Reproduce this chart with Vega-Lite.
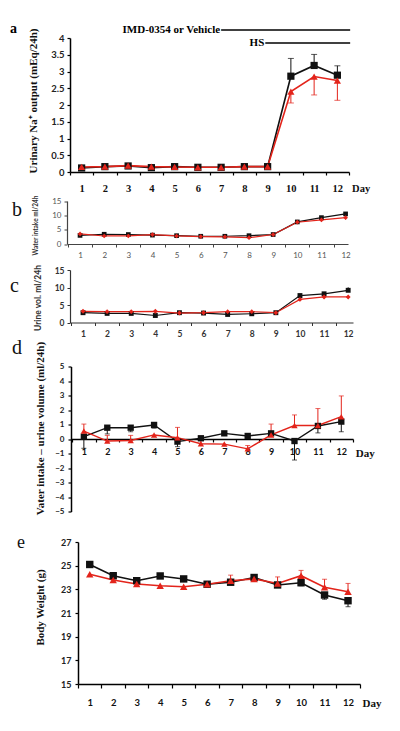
{
  "$schema": "https://vega.github.io/schema/vega-lite/v6.json",
  "background": "white",
  "padding": {"left": 10, "top": 21, "right": 5, "bottom": 5},
  "bounds": "flush",
  "spacing": 25.5,
  "resolve": {"scale": {"x": "independent", "y": "independent", "color": "independent", "shape": "independent"}},
  "config": {"view": {"stroke": null}, "axis": {"grid": false, "domainColor": "#000", "tickColor": "#000", "tickCount": 50}, "title": {"offset": 0}},
  "datasets": {
    "a": [
      {"day":1,"g":"Vehicle","v":0.12},{"day":2,"g":"Vehicle","v":0.16},{"day":3,"g":"Vehicle","v":0.18},{"day":4,"g":"Vehicle","v":0.13},{"day":5,"g":"Vehicle","v":0.16},{"day":6,"g":"Vehicle","v":0.14},{"day":7,"g":"Vehicle","v":0.14},{"day":8,"g":"Vehicle","v":0.16},{"day":9,"g":"Vehicle","v":0.16},{"day":10,"g":"Vehicle","v":2.86,"end":3.39},{"day":11,"g":"Vehicle","v":3.18,"end":3.51},{"day":12,"g":"Vehicle","v":2.89,"end":3.17},
      {"day":1,"g":"IMD-0354","v":0.15},{"day":2,"g":"IMD-0354","v":0.16},{"day":3,"g":"IMD-0354","v":0.19},{"day":4,"g":"IMD-0354","v":0.16},{"day":5,"g":"IMD-0354","v":0.15},{"day":6,"g":"IMD-0354","v":0.14},{"day":7,"g":"IMD-0354","v":0.14},{"day":8,"g":"IMD-0354","v":0.16},{"day":9,"g":"IMD-0354","v":0.16},{"day":10,"g":"IMD-0354","v":2.40,"end":2.06},{"day":11,"g":"IMD-0354","v":2.85,"end":2.3},{"day":12,"g":"IMD-0354","v":2.73,"end":2.14}
    ],
    "annot": [
      {"label":"IMD-0354 or Vehicle","x":7.0,"x2":12.55,"y":4.24},
      {"label":"HS","x":8.9,"x2":12.55,"y":3.85}
    ],
    "b": [
      {"day":1,"g":"Vehicle","v":3.0},{"day":2,"g":"Vehicle","v":3.4},{"day":3,"g":"Vehicle","v":3.3},{"day":4,"g":"Vehicle","v":3.1},{"day":5,"g":"Vehicle","v":2.9},{"day":6,"g":"Vehicle","v":2.7},{"day":7,"g":"Vehicle","v":2.7},{"day":8,"g":"Vehicle","v":2.9},{"day":9,"g":"Vehicle","v":3.3},{"day":10,"g":"Vehicle","v":7.7},{"day":11,"g":"Vehicle","v":9.2,"end":9.7},{"day":12,"g":"Vehicle","v":10.5,"end":11.1},
      {"day":1,"g":"IMD-0354","v":3.5},{"day":2,"g":"IMD-0354","v":2.8},{"day":3,"g":"IMD-0354","v":2.8},{"day":4,"g":"IMD-0354","v":3.3},{"day":5,"g":"IMD-0354","v":2.8},{"day":6,"g":"IMD-0354","v":2.6},{"day":7,"g":"IMD-0354","v":2.5},{"day":8,"g":"IMD-0354","v":2.2,"end":1.7},{"day":9,"g":"IMD-0354","v":3.3},{"day":10,"g":"IMD-0354","v":7.6},{"day":11,"g":"IMD-0354","v":8.4,"end":7.9},{"day":12,"g":"IMD-0354","v":9.2,"end":8.6}
    ],
    "c": [
      {"day":1,"g":"Vehicle","v":2.8},{"day":2,"g":"Vehicle","v":2.6},{"day":3,"g":"Vehicle","v":2.6},{"day":4,"g":"Vehicle","v":2.0},{"day":5,"g":"Vehicle","v":2.8},{"day":6,"g":"Vehicle","v":2.7},{"day":7,"g":"Vehicle","v":2.3},{"day":8,"g":"Vehicle","v":2.5},{"day":9,"g":"Vehicle","v":2.8},{"day":10,"g":"Vehicle","v":7.7,"end":8.2},{"day":11,"g":"Vehicle","v":8.2,"end":8.7},{"day":12,"g":"Vehicle","v":9.2,"end":10.1},
      {"day":1,"g":"IMD-0354","v":3.2},{"day":2,"g":"IMD-0354","v":3.1},{"day":3,"g":"IMD-0354","v":3.1},{"day":4,"g":"IMD-0354","v":3.2},{"day":5,"g":"IMD-0354","v":2.7},{"day":6,"g":"IMD-0354","v":2.8},{"day":7,"g":"IMD-0354","v":3.1},{"day":8,"g":"IMD-0354","v":3.1},{"day":9,"g":"IMD-0354","v":2.8},{"day":10,"g":"IMD-0354","v":6.6,"end":6.1},{"day":11,"g":"IMD-0354","v":7.3,"end":6.8},{"day":12,"g":"IMD-0354","v":7.3,"end":6.8}
    ],
    "d": [
      {"day":1,"g":"Vehicle","v":0.16,"end":-0.64},{"day":2,"g":"Vehicle","v":0.78,"end":0.35},{"day":3,"g":"Vehicle","v":0.78,"end":0.5},{"day":4,"g":"Vehicle","v":0.97,"end":0.75},{"day":5,"g":"Vehicle","v":-0.18,"end":-0.53},{"day":6,"g":"Vehicle","v":0.05},{"day":7,"g":"Vehicle","v":0.39},{"day":8,"g":"Vehicle","v":0.21},{"day":9,"g":"Vehicle","v":0.39},{"day":10,"g":"Vehicle","v":-0.14,"end":-1.45},{"day":11,"g":"Vehicle","v":0.9,"end":0.42},{"day":12,"g":"Vehicle","v":1.2,"end":0.5},
      {"day":1,"g":"IMD-0354","v":0.55,"end":1.03},{"day":2,"g":"IMD-0354","v":-0.14,"end":0.25},{"day":3,"g":"IMD-0354","v":-0.1,"end":0.25},{"day":4,"g":"IMD-0354","v":0.28},{"day":5,"g":"IMD-0354","v":0.09,"end":0.8},{"day":6,"g":"IMD-0354","v":-0.33,"end":0.2},{"day":7,"g":"IMD-0354","v":-0.35},{"day":8,"g":"IMD-0354","v":-0.68,"end":-0.45},{"day":9,"g":"IMD-0354","v":0.28,"end":1.03},{"day":10,"g":"IMD-0354","v":0.93,"end":1.66},{"day":11,"g":"IMD-0354","v":0.93,"end":2.1},{"day":12,"g":"IMD-0354","v":1.54,"end":2.97}
    ],
    "e": [
      {"day":1,"g":"Vehicle","v":25.1},{"day":2,"g":"Vehicle","v":24.15},{"day":3,"g":"Vehicle","v":23.73},{"day":4,"g":"Vehicle","v":24.13},{"day":5,"g":"Vehicle","v":23.88},{"day":6,"g":"Vehicle","v":23.43},{"day":7,"g":"Vehicle","v":23.6},{"day":8,"g":"Vehicle","v":24.0},{"day":9,"g":"Vehicle","v":23.37},{"day":10,"g":"Vehicle","v":23.56,"end":23.3},{"day":11,"g":"Vehicle","v":22.52,"end":22.16},{"day":12,"g":"Vehicle","v":22.04,"end":21.53},
      {"day":1,"g":"IMD-0354","v":24.27},{"day":2,"g":"IMD-0354","v":23.79},{"day":3,"g":"IMD-0354","v":23.45},{"day":4,"g":"IMD-0354","v":23.3},{"day":5,"g":"IMD-0354","v":23.22},{"day":6,"g":"IMD-0354","v":23.43},{"day":7,"g":"IMD-0354","v":23.73,"end":24.2},{"day":8,"g":"IMD-0354","v":23.88,"end":24.15},{"day":9,"g":"IMD-0354","v":23.5,"end":24.05},{"day":10,"g":"IMD-0354","v":24.15,"end":24.6},{"day":11,"g":"IMD-0354","v":23.17,"end":23.85},{"day":12,"g":"IMD-0354","v":22.8,"end":23.5}
    ]
  },
  "vconcat": [
    {
      "width": 293, "height": 134,
      "title": {"text": "a", "anchor": "start", "frame": "group", "font": "Liberation Serif", "fontSize": 14, "fontWeight": "bold", "color": "#000", "dx": -57, "dy": 27, "baseline": "alphabetic"},
      "layer": [
        {"data": {"name": "a"}, "mark": {"type": "line", "strokeWidth": 1.6},
          "encoding": {
            "x": {"field": "day", "type": "quantitative", "scale": {"domain": [0.5, 12.5], "range": [3, 282], "nice": false, "zero": false},
              "axis": {"title": null, "tickCount": 50, "values": [0.5,1.5,2.5,3.5,4.5,5.5,6.5,7.5,8.5,9.5,10.5,11.5,12.5], "labelExpr": "datum.value < 12 ? format(datum.value + 0.5, 'd') : 'Day'", "labelOffset": 11.6, "labelFlush": false, "labelOverlap": false, "labelPadding": 8, "tickSize": 3, "tickWidth": 1.2, "domainWidth": 1.5, "labelFont": "Liberation Serif", "labelFontSize": 10.5, "labelFontWeight": "bold", "labelColor": "#111"}},
            "y": {"field": "v", "type": "quantitative", "scale": {"domain": [0, 4], "nice": false, "zero": false},
              "axis": {"title": "Urinary Na⁺ output (mEq/24h)", "tickCount": 50, "labelOverlap": false, "values": [0,0.5,1,1.5,2,2.5,3,3.5,4], "format": ".1~f", "offset": -3, "titleX": -37, "titleY": 62.5, "titleBaseline": "middle", "titleFont": "Liberation Serif", "titleFontSize": 11, "titleFontWeight": "bold", "titleColor": "#111", "labelFont": "Lato", "labelFontSize": 9.5, "labelFontWeight": "bold", "labelColor": "#222", "labelPadding": 3, "tickSize": 3, "tickWidth": 1.2, "domainWidth": 1.5}},
            "color": {"field": "g", "type": "nominal", "scale": {"domain": ["Vehicle", "IMD-0354"], "range": ["#111111", "#e3241b"]}, "legend": null}
          }},
        {"data": {"name": "a"}, "transform": [{"filter": "isValid(datum.end)"}], "mark": {"type": "rule", "strokeWidth": 1},
          "encoding": {"x": {"field": "day", "type": "quantitative", "scale": {"domain": [0.5, 12.5], "range": [3, 282], "nice": false, "zero": false}}, "y": {"field": "v", "type": "quantitative", "scale": {"domain": [0, 4], "nice": false, "zero": false}}, "y2": {"field": "end"}, "color": {"field": "g", "type": "nominal", "legend": null}}},
        {"data": {"name": "a"}, "transform": [{"filter": "isValid(datum.end)"}], "mark": {"type": "tick", "orient": "horizontal", "size": 6, "thickness": 1},
          "encoding": {"x": {"field": "day", "type": "quantitative", "scale": {"domain": [0.5, 12.5], "range": [3, 282], "nice": false, "zero": false}}, "y": {"field": "end", "type": "quantitative", "scale": {"domain": [0, 4], "nice": false, "zero": false}}, "color": {"field": "g", "type": "nominal", "legend": null}}},
        {"data": {"name": "a"}, "mark": {"type": "point", "filled": true, "opacity": 1, "size": 52},
          "encoding": {"x": {"field": "day", "type": "quantitative", "scale": {"domain": [0.5, 12.5], "range": [3, 282], "nice": false, "zero": false}}, "y": {"field": "v", "type": "quantitative", "scale": {"domain": [0, 4], "nice": false, "zero": false}}, "color": {"field": "g", "type": "nominal", "legend": null}, "shape": {"field": "g", "type": "nominal", "scale": {"domain": ["Vehicle", "IMD-0354"], "range": ["square", "triangle-up"]}, "legend": null}}},
        {"data": {"name": "annot"}, "mark": {"type": "rule", "strokeWidth": 1.5, "color": "#000"},
          "encoding": {"x": {"field": "x", "type": "quantitative", "scale": {"domain": [0.5, 12.5], "range": [3, 282], "nice": false, "zero": false}}, "x2": {"field": "x2"}, "y": {"field": "y", "type": "quantitative", "scale": {"domain": [0, 4], "nice": false, "zero": false}}}},
        {"data": {"name": "annot"}, "mark": {"type": "text", "align": "right", "baseline": "middle", "font": "Liberation Serif", "fontSize": 11, "fontWeight": "bold", "color": "#000", "dx": -1},
          "encoding": {"x": {"field": "x", "type": "quantitative", "scale": {"domain": [0.5, 12.5], "range": [3, 282], "nice": false, "zero": false}}, "y": {"field": "y", "type": "quantitative", "scale": {"domain": [0, 4], "nice": false, "zero": false}}, "text": {"field": "label"}}}
      ]
    },
    {
      "width": 293, "height": 46.5,
      "title": {"text": "b", "anchor": "start", "frame": "group", "font": "Liberation Serif", "fontSize": 20, "fontWeight": "normal", "color": "#111", "dx": -55, "dy": 45.5, "baseline": "alphabetic"},
      "layer": [
        {"data": {"name": "b"}, "mark": {"type": "line", "strokeWidth": 1.2},
          "encoding": {
            "x": {"field": "day", "type": "quantitative", "scale": {"domain": [0.46, 12.1], "range": [0, 281], "nice": false, "zero": false},
              "axis": {"title": null, "tickCount": 50, "values": [0.5,1.5,2.5,3.5,4.5,5.5,6.5,7.5,8.5,9.5,10.5,11.5], "labelExpr": "format(datum.value + 0.5, 'd')", "labelOffset": 12.1, "labelFlush": false, "labelOverlap": false, "labelPadding": 4, "tickSize": 3, "tickWidth": 1, "domainWidth": 1.2, "domainColor": "#444", "tickColor": "#444", "labelFont": "Lato", "labelFontSize": 8, "labelColor": "#555"}},
            "y": {"field": "v", "type": "quantitative", "scale": {"domain": [0, 15], "range": [46.5, 3.5], "nice": false, "zero": false},
              "axis": {"title": "Water intake ml/24h", "tickCount": 50, "labelOverlap": false, "format": "d", "values": [0,5,10,15], "offset": 0, "titleX": -32, "titleY": 27.5, "titleBaseline": "middle", "titleFont": "Lato", "titleFontSize": 6.5, "titleFontWeight": "bold", "titleColor": "#333", "labelFont": "Lato", "labelFontSize": 8, "labelColor": "#555", "labelPadding": 3, "tickSize": 3, "domainWidth": 1.2, "domainColor": "#444", "tickColor": "#444"}},
            "color": {"field": "g", "type": "nominal", "scale": {"domain": ["Vehicle", "IMD-0354"], "range": ["#111111", "#e3241b"]}, "legend": null}
          }},
        {"data": {"name": "b"}, "transform": [{"filter": "isValid(datum.end)"}], "mark": {"type": "rule", "strokeWidth": 0.8},
          "encoding": {"x": {"field": "day", "type": "quantitative", "scale": {"domain": [0.46, 12.1], "range": [0, 281], "nice": false, "zero": false}}, "y": {"field": "v", "type": "quantitative", "scale": {"domain": [0, 15], "range": [46.5, 3.5], "nice": false, "zero": false}}, "y2": {"field": "end"}, "color": {"field": "g", "type": "nominal", "legend": null}}},
        {"data": {"name": "b"}, "mark": {"type": "point", "filled": true, "opacity": 1, "size": 22},
          "encoding": {"x": {"field": "day", "type": "quantitative", "scale": {"domain": [0.46, 12.1], "range": [0, 281], "nice": false, "zero": false}}, "y": {"field": "v", "type": "quantitative", "scale": {"domain": [0, 15], "range": [46.5, 3.5], "nice": false, "zero": false}}, "color": {"field": "g", "type": "nominal", "legend": null}, "shape": {"field": "g", "type": "nominal", "scale": {"domain": ["Vehicle", "IMD-0354"], "range": ["square", "diamond"]}, "legend": null}}}
      ]
    },
    {
      "width": 293, "height": 52.5,
      "title": {"text": "c", "anchor": "start", "frame": "group", "font": "Liberation Serif", "fontSize": 20, "fontWeight": "normal", "color": "#111", "dx": -57, "dy": 52, "baseline": "alphabetic"},
      "layer": [
        {"data": {"name": "c"}, "mark": {"type": "line", "strokeWidth": 1.2},
          "encoding": {
            "x": {"field": "day", "type": "quantitative", "scale": {"domain": [0.46, 12.2], "range": [3, 286], "nice": false, "zero": false},
              "axis": {"title": null, "tickCount": 50, "values": [0.5,1.5,2.5,3.5,4.5,5.5,6.5,7.5,8.5,9.5,10.5,11.5], "labelExpr": "format(datum.value + 0.5, 'd')", "labelOffset": 12, "labelFlush": false, "labelOverlap": false, "labelPadding": 4, "tickSize": 3, "tickWidth": 1, "domainWidth": 1.2, "domainColor": "#333", "tickColor": "#333", "labelFont": "Lato", "labelFontSize": 8.5, "labelFontWeight": "bold", "labelColor": "#333"}},
            "y": {"field": "v", "type": "quantitative", "scale": {"domain": [0, 15], "nice": false, "zero": false},
              "axis": {"title": "Urine vol. ml/24h", "tickCount": 50, "labelOverlap": false, "format": "d", "values": [0,5,10,15], "offset": -3, "titleX": -33, "titleY": 27.5, "titleBaseline": "middle", "titleFont": "Lato", "titleFontSize": 8.5, "titleFontWeight": "bold", "titleColor": "#333", "labelFont": "Lato", "labelFontSize": 8.5, "labelFontWeight": "bold", "labelColor": "#333", "labelPadding": 3, "tickSize": 3, "domainWidth": 1.2, "domainColor": "#333", "tickColor": "#333"}},
            "color": {"field": "g", "type": "nominal", "scale": {"domain": ["Vehicle", "IMD-0354"], "range": ["#111111", "#e3241b"]}, "legend": null}
          }},
        {"data": {"name": "c"}, "transform": [{"filter": "isValid(datum.end)"}], "mark": {"type": "rule", "strokeWidth": 0.8},
          "encoding": {"x": {"field": "day", "type": "quantitative", "scale": {"domain": [0.46, 12.2], "range": [3, 286], "nice": false, "zero": false}}, "y": {"field": "v", "type": "quantitative", "scale": {"domain": [0, 15], "nice": false, "zero": false}}, "y2": {"field": "end"}, "color": {"field": "g", "type": "nominal", "legend": null}}},
        {"data": {"name": "c"}, "mark": {"type": "point", "filled": true, "opacity": 1, "size": 24},
          "encoding": {"x": {"field": "day", "type": "quantitative", "scale": {"domain": [0.46, 12.2], "range": [3, 286], "nice": false, "zero": false}}, "y": {"field": "v", "type": "quantitative", "scale": {"domain": [0, 15], "nice": false, "zero": false}}, "color": {"field": "g", "type": "nominal", "legend": null}, "shape": {"field": "g", "type": "nominal", "scale": {"domain": ["Vehicle", "IMD-0354"], "range": ["square", "diamond"]}, "legend": null}}}
      ]
    },
    {
      "width": 293, "height": 163,
      "title": {"text": "d", "anchor": "start", "frame": "group", "font": "Liberation Serif", "fontSize": 20, "fontWeight": "normal", "color": "#111", "dx": -55, "dy": 37, "baseline": "alphabetic"},
      "layer": [
        {"data": {"name": "d"}, "mark": {"type": "line", "strokeWidth": 1.4},
          "encoding": {
            "x": {"field": "day", "type": "quantitative", "scale": {"domain": [0.45, 12.5], "range": [4, 286], "nice": false, "zero": false},
              "axis": {"title": null, "tickCount": 50, "offset": -72.5, "values": [0.5,1.5,2.5,3.5,4.5,5.5,6.5,7.5,8.5,9.5,10.5,11.5,12.5], "labelExpr": "datum.value < 12 ? format(datum.value + 0.5, 'd') : 'Day'", "labelOffset": 11.7, "labelFlush": false, "labelOverlap": false, "labelPadding": 5, "tickSize": 3, "tickWidth": 1.2, "domainWidth": 1.5, "labelFont": {"condition": {"test": "datum.value > 12", "value": "Liberation Serif"}, "value": "Lato"}, "labelFontSize": {"condition": {"test": "datum.value > 12", "value": 11}, "value": 9}, "labelFontWeight": "bold", "labelColor": "#111"}},
            "y": {"field": "v", "type": "quantitative", "scale": {"domain": [-5, 5], "range": [163, 18], "nice": false, "zero": false},
              "axis": {"title": "Vater intake – urine volume (ml/24h)", "tickCount": 50, "labelOverlap": false, "format": "d", "values": [-5,-4,-3,-2,-1,0,1,2,3,4,5], "offset": -4, "titleX": -31, "titleY": 79.5, "titleBaseline": "middle", "titleFont": "Liberation Serif", "titleFontSize": 11, "titleFontWeight": "bold", "titleColor": "#111", "labelFont": "Lato", "labelFontSize": 8, "labelFontWeight": "bold", "labelColor": "#222", "labelPadding": 4, "tickSize": 3, "tickWidth": 1.2, "domainWidth": 1.5}},
            "color": {"field": "g", "type": "nominal", "scale": {"domain": ["Vehicle", "IMD-0354"], "range": ["#111111", "#e3241b"]}, "legend": null}
          }},
        {"data": {"name": "d"}, "transform": [{"filter": "isValid(datum.end)"}], "mark": {"type": "rule", "strokeWidth": 1},
          "encoding": {"x": {"field": "day", "type": "quantitative", "scale": {"domain": [0.45, 12.5], "range": [4, 286], "nice": false, "zero": false}}, "y": {"field": "v", "type": "quantitative", "scale": {"domain": [-5, 5], "range": [163, 18], "nice": false, "zero": false}}, "y2": {"field": "end"}, "color": {"field": "g", "type": "nominal", "legend": null}}},
        {"data": {"name": "d"}, "transform": [{"filter": "isValid(datum.end)"}], "mark": {"type": "tick", "orient": "horizontal", "size": 5, "thickness": 1},
          "encoding": {"x": {"field": "day", "type": "quantitative", "scale": {"domain": [0.45, 12.5], "range": [4, 286], "nice": false, "zero": false}}, "y": {"field": "end", "type": "quantitative", "scale": {"domain": [-5, 5], "range": [163, 18], "nice": false, "zero": false}}, "color": {"field": "g", "type": "nominal", "legend": null}}},
        {"data": {"name": "d"}, "mark": {"type": "point", "filled": true, "opacity": 1, "size": 40},
          "encoding": {"x": {"field": "day", "type": "quantitative", "scale": {"domain": [0.45, 12.5], "range": [4, 286], "nice": false, "zero": false}}, "y": {"field": "v", "type": "quantitative", "scale": {"domain": [-5, 5], "range": [163, 18], "nice": false, "zero": false}}, "color": {"field": "g", "type": "nominal", "legend": null}, "shape": {"field": "g", "type": "nominal", "scale": {"domain": ["Vehicle", "IMD-0354"], "range": ["square", "triangle-up"]}, "legend": null}}}
      ]
    },
    {
      "width": 293, "height": 147,
      "title": {"text": "e", "anchor": "start", "frame": "group", "font": "Liberation Serif", "fontSize": 18, "fontWeight": "normal", "color": "#111", "dx": -50, "dy": 33, "baseline": "alphabetic"},
      "layer": [
        {"data": {"name": "e"}, "mark": {"type": "line", "strokeWidth": 1.6},
          "encoding": {
            "x": {"field": "day", "type": "quantitative", "scale": {"domain": [0.5, 12.51], "range": [11, 293], "nice": false, "zero": false},
              "axis": {"title": null, "tickCount": 50, "values": [0.5,1.5,2.5,3.5,4.5,5.5,6.5,7.5,8.5,9.5,10.5,11.5,12.5], "labelExpr": "datum.value < 12 ? format(datum.value + 0.5, 'd') : 'Day'", "labelOffset": 11.8, "labelFlush": false, "labelOverlap": false, "labelPadding": 9, "tickSize": 4, "tickWidth": 1.2, "domainWidth": 1.5, "labelFont": {"condition": {"test": "datum.value > 12", "value": "Liberation Serif"}, "value": "Lato"}, "labelFontSize": {"condition": {"test": "datum.value > 12", "value": 11}, "value": 9.5}, "labelFontWeight": "bold", "labelColor": "#111"}},
            "y": {"field": "v", "type": "quantitative", "scale": {"domain": [15, 27], "range": [147, 5], "nice": false, "zero": false},
              "axis": {"title": "Body Weight (g)", "tickCount": 50, "labelOverlap": false, "format": "d", "values": [15,17,19,21,23,25,27], "offset": -11, "titleX": -38, "titleY": 70, "titleBaseline": "middle", "titleFont": "Liberation Serif", "titleFontSize": 11, "titleFontWeight": "bold", "titleColor": "#111", "labelFont": "Lato", "labelFontSize": 9, "labelFontWeight": "bold", "labelColor": "#222", "labelPadding": 4, "tickSize": 3, "tickWidth": 1.2, "domainWidth": 1.5}},
            "color": {"field": "g", "type": "nominal", "scale": {"domain": ["Vehicle", "IMD-0354"], "range": ["#111111", "#e3241b"]}, "legend": null}
          }},
        {"data": {"name": "e"}, "transform": [{"filter": "isValid(datum.end)"}], "mark": {"type": "rule", "strokeWidth": 1},
          "encoding": {"x": {"field": "day", "type": "quantitative", "scale": {"domain": [0.5, 12.51], "range": [11, 293], "nice": false, "zero": false}}, "y": {"field": "v", "type": "quantitative", "scale": {"domain": [15, 27], "range": [147, 5], "nice": false, "zero": false}}, "y2": {"field": "end"}, "color": {"field": "g", "type": "nominal", "legend": null}}},
        {"data": {"name": "e"}, "transform": [{"filter": "isValid(datum.end)"}], "mark": {"type": "tick", "orient": "horizontal", "size": 5, "thickness": 1},
          "encoding": {"x": {"field": "day", "type": "quantitative", "scale": {"domain": [0.5, 12.51], "range": [11, 293], "nice": false, "zero": false}}, "y": {"field": "end", "type": "quantitative", "scale": {"domain": [15, 27], "range": [147, 5], "nice": false, "zero": false}}, "color": {"field": "g", "type": "nominal", "legend": null}}},
        {"data": {"name": "e"}, "mark": {"type": "point", "filled": true, "opacity": 1, "size": 55},
          "encoding": {"x": {"field": "day", "type": "quantitative", "scale": {"domain": [0.5, 12.51], "range": [11, 293], "nice": false, "zero": false}}, "y": {"field": "v", "type": "quantitative", "scale": {"domain": [15, 27], "range": [147, 5], "nice": false, "zero": false}}, "color": {"field": "g", "type": "nominal", "legend": null}, "shape": {"field": "g", "type": "nominal", "scale": {"domain": ["Vehicle", "IMD-0354"], "range": ["square", "triangle-up"]}, "legend": null}}}
      ]
    }
  ]
}
